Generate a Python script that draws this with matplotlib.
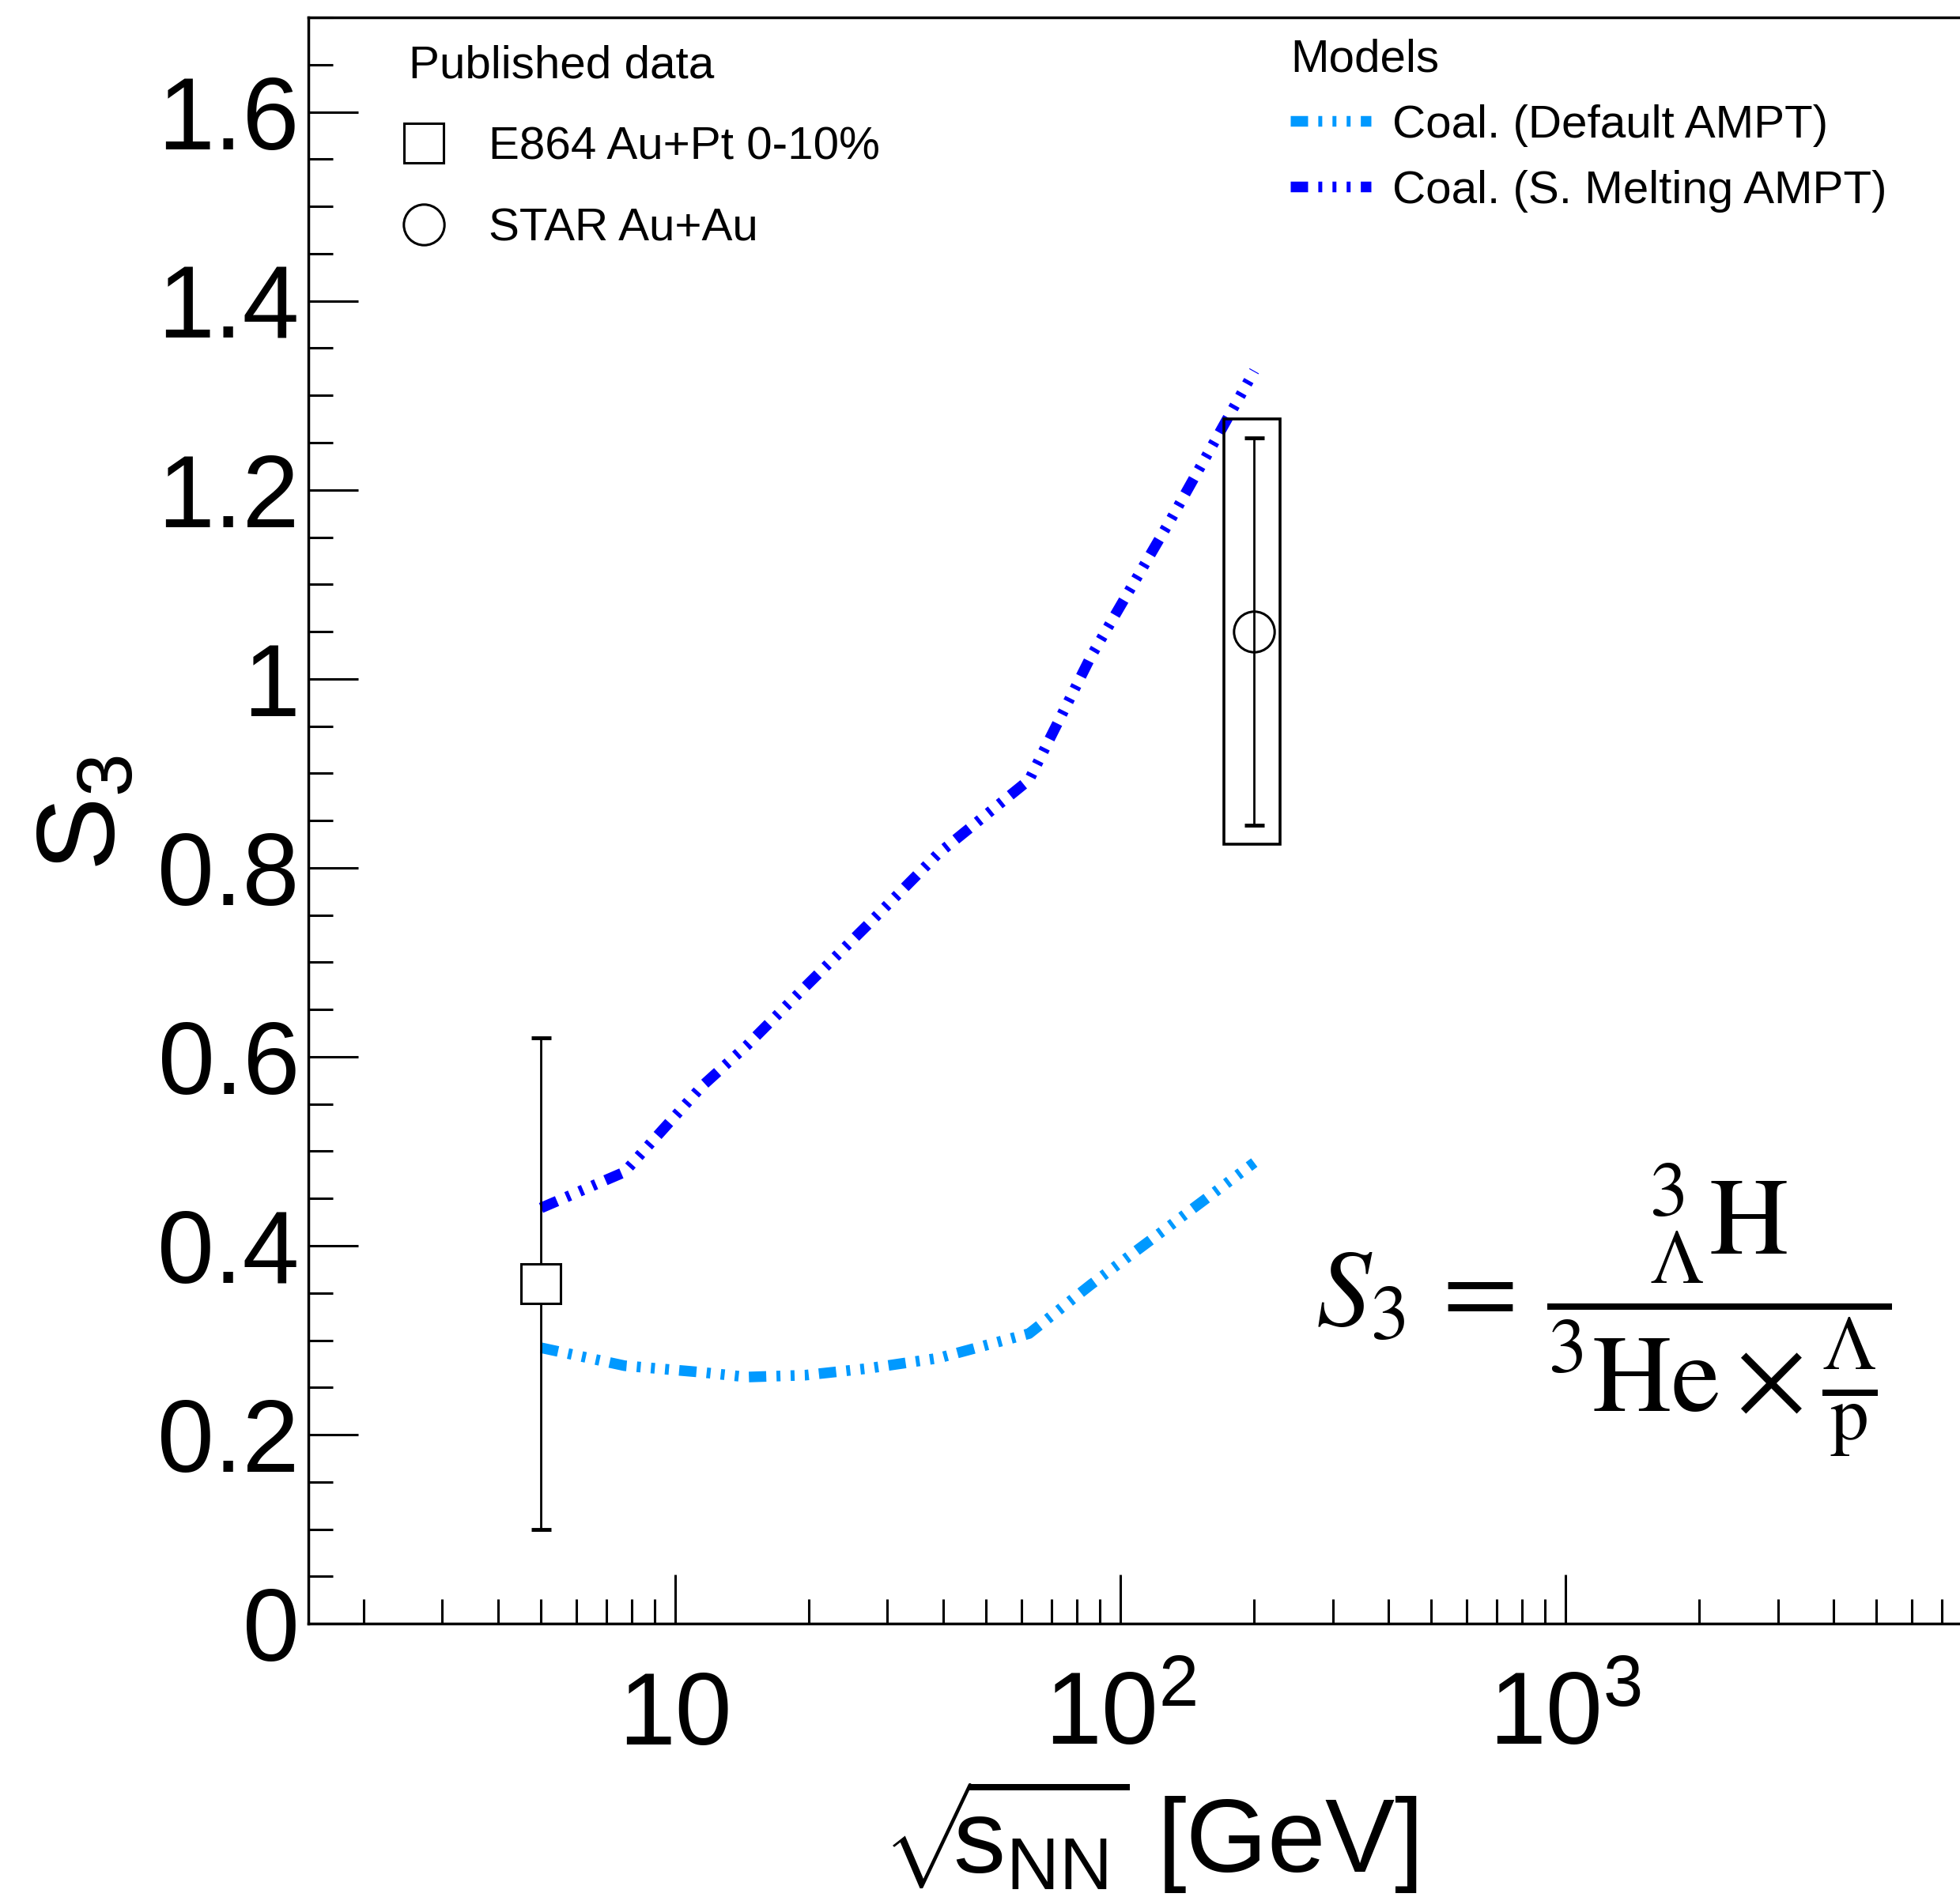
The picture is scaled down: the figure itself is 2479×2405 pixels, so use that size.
import matplotlib
matplotlib.use("Agg")
import matplotlib.pyplot as plt
from matplotlib.patches import Rectangle
from matplotlib.ticker import FixedLocator, LogLocator, MultipleLocator, FuncFormatter, NullFormatter

plt.rcParams['font.family'] = ['Liberation Sans', 'DejaVu Sans']
plt.rcParams['mathtext.fontset'] = 'custom'
plt.rcParams['mathtext.rm'] = 'Liberation Sans'
plt.rcParams['mathtext.it'] = 'Liberation Sans:italic'
plt.rcParams['mathtext.bf'] = 'Liberation Sans:bold'

# AMPT coalescence curves
energies = [5.0, 7.7, 11.5, 14.5, 19.6, 27, 39, 62.4, 86, 130, 200]
s3_default = [0.292, 0.273, 0.266, 0.261, 0.263, 0.270, 0.281, 0.307, 0.359, 0.422, 0.488]
s3_melting = [0.440, 0.478, 0.569, 0.612, 0.674, 0.739, 0.815, 0.893, 1.024, 1.169, 1.326]

# published data
e864_x = [5.0]
e864_y = [0.36]
e864_err = [0.26]
star_x = [200]
star_y = [1.05]
star_err = [0.205]
star_sys = [0.225]

xticks = [10, 100, 1000]
xticklabels = ['10', r'$\mathregular{10^{2}}$', r'$\mathregular{10^{3}}$']

fig = plt.figure(figsize=(24.79, 24.05), dpi=100)
ax = fig.add_axes([0.1573, 0.1459, 0.8685, 0.8449])

dash = (0, (1.63, 0.96, 0.37, 0.96, 0.37, 0.96, 0.37, 0.96))
ax.plot(energies, s3_default, color='#0099ff', lw=9.7, linestyle=dash,
        dash_capstyle='butt', label='Coal. (Default AMPT)')
ax.plot(energies, s3_melting, color='#0000ff', lw=9.7, linestyle=dash,
        dash_capstyle='butt', label='Coal. (S. Melting AMPT)')

# systematic box for STAR
for x, y, s in zip(star_x, star_y, star_sys):
    ax.add_patch(Rectangle((x / 1.17, y - s), x * 1.145 - x / 1.17, 2 * s,
                           fill=False, ec='black', lw=2.6, zorder=3))

ax.errorbar(e864_x, e864_y, yerr=e864_err, fmt='none', ecolor='black',
            elinewidth=2.0, capsize=9, capthick=3.5, zorder=3)
ax.errorbar(star_x, star_y, yerr=star_err, fmt='none', ecolor='black',
            elinewidth=2.0, capsize=9, capthick=3.5, zorder=3)
m1, = ax.plot(e864_x, e864_y, 's', ms=36, mfc='white', mec='black', mew=2.2,
              linestyle='none', zorder=4, label='E864 Au+Pt 0-10%')
m2, = ax.plot(star_x, star_y, 'o', ms=37, mfc='none', mec='black', mew=2.2,
              linestyle='none', zorder=4, label='STAR Au+Au')

ax.set_xscale('log')
ax.set_xlim(1.5, 1e4)
ax.set_ylim(0, 1.7)

ax.xaxis.set_major_locator(FixedLocator(xticks))
ax.set_xticks(xticks, labels=xticklabels, va='baseline')
ax.xaxis.set_minor_locator(LogLocator(base=10, subs=range(2, 10)))
ax.xaxis.set_minor_formatter(NullFormatter())
ax.yaxis.set_major_locator(MultipleLocator(0.2))
ax.yaxis.set_minor_locator(MultipleLocator(0.05))
ax.yaxis.set_major_formatter(FuncFormatter(lambda v, p: '%g' % round(v, 2)))

ax.tick_params(which='both', direction='in', top=False, right=False, width=2.2)
ax.tick_params(which='major', length=45)
ax.tick_params(which='minor', length=22.5)
ax.tick_params(axis='y', which='major', labelsize=93, pad=8)
ax.tick_params(axis='x', which='major', labelsize=93, pad=110)
for sp in ax.spines.values():
    sp.set_linewidth(2.5)

ax.set_xlabel(r'$\mathregular{\sqrt{\!\!s_{NN}}}$ [GeV]', fontsize=95)
ax.xaxis.set_label_coords(0.4946, -0.095)
ax.set_ylabel(r'$\mathregular{S_{3}}$', fontsize=101)
ax.yaxis.set_label_coords(-0.1, 0.505)

leg1 = ax.legend(handles=[m1, m2], title='Published data', loc='upper left',
                 bbox_to_anchor=(0.059, 0.983), frameon=False, fontsize=42,
                 title_fontsize=42, alignment='left', borderpad=0, borderaxespad=0,
                 handlelength=0.65, handletextpad=1.08, labelspacing=0.84)
ax.add_artist(leg1)
lines = ax.get_lines()[:2]
ax.legend(handles=lines, title='Models', loc='upper left',
          bbox_to_anchor=(0.577, 0.987), frameon=False, fontsize=42,
          title_fontsize=42, alignment='left', borderpad=0, borderaxespad=0,
          handlelength=1.75, handletextpad=0.45, labelspacing=0.5)

ax.text(0.761, 0.195,
        r'$S_3\,=\,\dfrac{{}^{3}_{\Lambda}\mathrm{H}}{{}^{3}\mathrm{He}\times\frac{\Lambda}{\mathrm{p}}}$',
        transform=ax.transAxes, ha='center', va='center', fontsize=100,
        math_fontfamily='stix')

fig.savefig('out.png', dpi=100)
